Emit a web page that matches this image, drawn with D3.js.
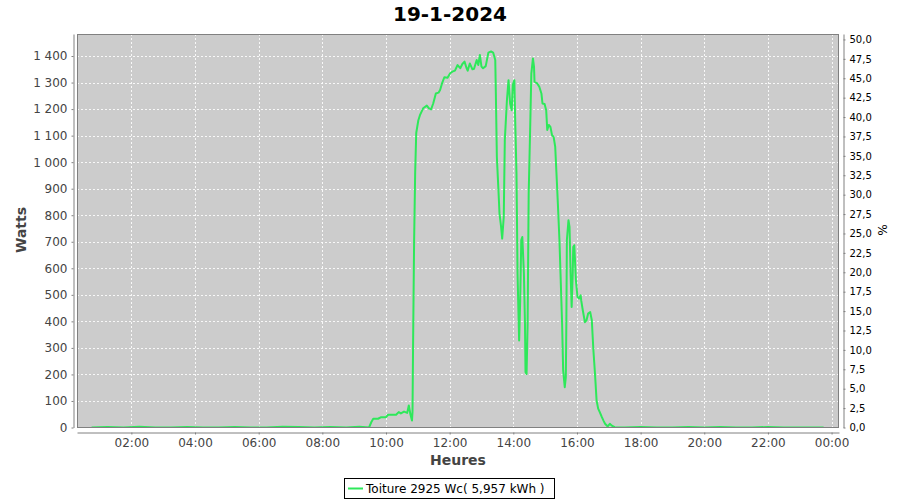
<!DOCTYPE html>
<html><head><meta charset="utf-8">
<script src="https://cdn.jsdelivr.net/npm/d3@7"></script>
<style>body{margin:0;background:#fff} svg{display:block} text{font-family:"DejaVu Sans",sans-serif}</style>
</head><body><svg id="c" width="900" height="500"></svg>
<script>
const chartTitle = "19-1-2024";
const seriesName = "Toiture 2925 Wc( 5,957 kWh )";
const peakPower = 2925;
const xLabel = "Heures";
const yLabel = "Watts";
const y2Label = "%";

const times = [
 "00:45","01:15","01:45","02:15","02:45","03:15","03:45","04:15","04:45","05:15","05:45","06:15","06:45","07:15","07:45","08:15","08:45","09:10","09:28",
 "09:33","09:36","09:45","09:51","10:00","10:04","10:19","10:24","10:28","10:34","10:40","10:43","10:46","10:49","10:50","10:51","10:53","10:55","10:57",
 "11:01","11:04","11:10","11:17","11:21","11:25","11:29","11:34","11:39","11:42","11:46","11:50","11:56",
 "12:01","12:05","12:10","12:15","12:20","12:24","12:28","12:32","12:34","12:38","12:43","12:46","12:51","12:54","12:57",
 "13:00","13:03","13:08","13:13","13:18","13:22","13:26","13:27","13:29","13:32","13:34","13:37","13:39","13:42","13:44","13:48","13:51","13:54","13:57","13:59",
 "14:02","14:03","14:06","14:08","14:11","14:13","14:15","14:17","14:20","14:22","14:23","14:25","14:27","14:29","14:32","14:34","14:37","14:39","14:40","14:45","14:49","14:53","14:55","14:59",
 "15:02","15:04","15:07","15:10","15:13","15:16","15:19","15:22","15:24","15:27","15:29","15:32","15:34","15:37","15:39","15:40","15:41","15:44","15:46","15:48","15:50","15:52","15:53","15:55","15:58",
 "16:01","16:04","16:07","16:08","16:11","16:15","16:18","16:21","16:25","16:28","16:31","16:34","16:37","16:40","16:43","16:47","16:50","16:53","16:58",
 "17:02","17:05","17:11","17:30","18:00","18:30","19:00","19:30","20:00","20:30","21:00","21:30","22:00","22:30","23:00","23:45"
];
const watts = [
 0,2,0,3,0,0,2,0,0,2,0,0,3,2,0,2,0,3,0,
 23,33,33,39,39,48,48,58,53,60,55,83,50,26,60,300,700,960,1110,
 1158,1177,1203,1213,1203,1199,1221,1259,1262,1272,1299,1320,1318,
 1335,1341,1345,1366,1354,1370,1379,1354,1345,1372,1350,1352,1385,1366,1404,
 1360,1354,1362,1413,1417,1413,1385,1272,1020,894,806,756,712,794,1083,1234,1309,1221,1196,1291,
 1309,1209,957,580,328,479,706,718,580,391,209,202,391,882,1146,1334,1391,1360,1303,1297,1284,1259,1221,1219,
 1196,1121,1140,1133,1102,1095,1058,932,844,706,580,391,215,152,190,391,706,781,756,580,454,580,680,687,555,
 492,486,498,479,442,397,404,429,435,404,291,203,102,71,58,39,26,14,4,
 14,8,1,0,2,0,0,2,0,2,0,0,2,0,0,0
];
const xTickHours = [2,4,6,8,10,12,14,16,18,20,22,24];
const xTickLabels = ["02:00","04:00","06:00","08:00","10:00","12:00","14:00","16:00","18:00","20:00","22:00","00:00"];
const leftTicks = [0,100,200,300,400,500,600,700,800,900,1000,1100,1200,1300,1400];
const rightTicks = [0,2.5,5,7.5,10,12.5,15,17.5,20,22.5,25,27.5,30,32.5,35,37.5,40,42.5,45,47.5,50];

const svg = d3.select("#c");
const P = {l:77, r:839, t:34, b:428};
const toH = s => { const [h,m] = s.split(":").map(Number); return h + m/60; };
const data = times.map((t,i)=>({h:toH(t), w:watts[i]}));

const x = d3.scaleLinear().domain([17.5/60, 24 + 14/60]).range([P.l, P.r]);
const yMax = 1483;
const y = d3.scaleLinear().domain([0, yMax]).range([427.5, P.t]);
const y2 = d3.scaleLinear().domain([0, yMax / peakPower * 100]).range([427.5, P.t]);

const loc = d3.formatLocale({decimal:",", thousands:"\u00a0", grouping:[3], currency:["","€"]});
const fL = loc.format(",d");
const fR = loc.format(".1f");

// title
svg.append("text").attr("x",450).attr("y",21).attr("text-anchor","middle")
  .attr("font-size",20).attr("font-weight","bold").attr("fill","#000").text(chartTitle);

// plot background
svg.append("rect").attr("x",P.l).attr("y",P.t).attr("width",P.r-P.l).attr("height",P.b-P.t).attr("fill","#cccccc");

// grid
const g = svg.append("g").attr("stroke","#ffffff").attr("stroke-opacity",0.85).attr("stroke-dasharray","2,2").attr("stroke-width",1);
leftTicks.forEach(v=>g.append("line").attr("x1",P.l).attr("x2",P.r).attr("y1",Math.round(y(v))+0.5).attr("y2",Math.round(y(v))+0.5));
xTickHours.forEach(v=>g.append("line").attr("y1",P.t).attr("y2",P.b).attr("x1",Math.round(x(v))+0.5).attr("x2",Math.round(x(v))+0.5));

// clip & line
svg.append("clipPath").attr("id","pc").append("rect").attr("x",P.l).attr("y",P.t).attr("width",P.r-P.l).attr("height",P.b-P.t);
svg.append("path").datum(data).attr("clip-path","url(#pc)")
  .attr("fill","none").attr("stroke","#2ee85a").attr("stroke-width",2).attr("stroke-linejoin","round")
  .attr("d", d3.line().x(d=>x(d.h)).y(d=>y(d.w)));

// border
svg.append("rect").attr("x",P.l+0.5).attr("y",P.t+0.5).attr("width",P.r-P.l-1).attr("height",P.b-P.t-1)
  .attr("fill","none").attr("stroke","#808080");

function styleAxis(sel, color, size){
  sel.selectAll("path.domain").attr("stroke","#808080");
  sel.selectAll(".tick line").attr("stroke","#808080");
  sel.selectAll(".tick text").attr("fill",color).attr("font-size",size).attr("font-family","DejaVu Sans");
}
// left axis
const la = svg.append("g").attr("transform","translate(73.5,0)")
  .call(d3.axisLeft(y).tickValues(leftTicks).tickFormat(fL).tickSize(2).tickSizeOuter(0).tickPadding(4));
styleAxis(la,"#444",12);
// right axis
const ra = svg.append("g").attr("transform","translate(843.5,0)")
  .call(d3.axisRight(y2).tickValues(rightTicks).tickFormat(fR).tickSize(2).tickSizeOuter(0).tickPadding(4));
styleAxis(ra,"#000",10);
// bottom axis
const ba = svg.append("g").attr("transform","translate(0,432.5)")
  .call(d3.axisBottom(x).tickValues(xTickHours).tickFormat((d,i)=>xTickLabels[i]).tickSize(2).tickSizeOuter(0).tickPadding(4));
styleAxis(ba,"#444",12);

// axis labels
svg.append("text").attr("x",458).attr("y",465).attr("text-anchor","middle").attr("font-size",14)
  .attr("font-weight","bold").attr("fill","#444").text(xLabel);
svg.append("text").attr("transform","translate(26,230) rotate(-90)").attr("text-anchor","middle").attr("font-size",14)
  .attr("font-weight","bold").attr("fill","#444").text(yLabel);
svg.append("text").attr("transform","translate(878,230) rotate(90)").attr("text-anchor","middle").attr("font-size",12)
  .attr("fill","#000").text(y2Label);

// legend
const lg = svg.append("g");
lg.append("rect").attr("x",344.5).attr("y",478.5).attr("width",210).attr("height",20).attr("fill","#fff").attr("stroke","#000");
lg.append("line").attr("x1",348).attr("x2",363).attr("y1",488.5).attr("y2",488.5).attr("stroke","#2ee85a").attr("stroke-width",2);
lg.append("text").attr("x",366).attr("y",493).attr("font-size",12).attr("fill","#000").text(seriesName);
</script></body></html>
